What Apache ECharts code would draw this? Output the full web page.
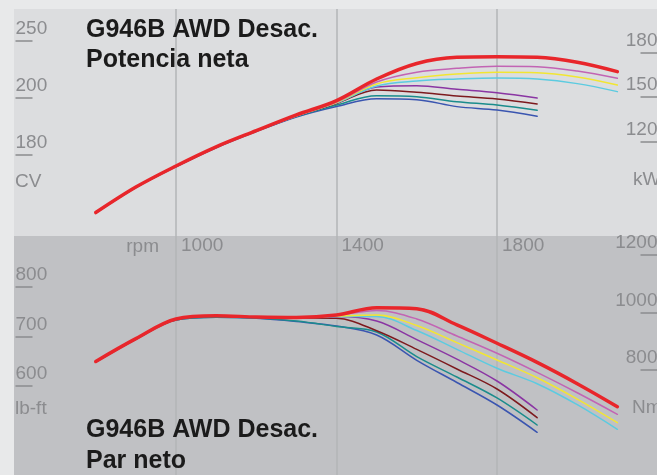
<!DOCTYPE html>
<html><head><meta charset="utf-8">
<script src="https://cdn.jsdelivr.net/npm/echarts@6.0.0/dist/echarts.min.js"></script>
<style>html,body{margin:0;padding:0;background:#e8e9ea;overflow:hidden;} #c{width:657px;height:475px;}</style>
</head><body><div id="c"></div>
<script>
// ---- data ----
const rpm = [800, 900, 1000, 1100, 1200, 1300, 1400, 1500, 1600, 1700, 1800, 1900, 2000, 2100];
const rpmTicks = [1000, 1400, 1800];
const cvTickLabels = ['180', '200', '250'];
const kwTicks = [120, 150, 180];
const lbftTicks = [600, 700, 800];
const nmTicks = [800, 1000, 1200];

// net power (kW)
const powerRed    = [72.1, 89.3, 103.5, 116.4, 127.3, 137.9, 147.6, 162.1, 172.6, 176.8, 177.2, 176.8, 173.4, 167.1];
const powerPink   = [72.1, 89.3, 103.5, 116.4, 127.3, 137.4, 146.6, 160.1, 166.7, 169.3, 170.7, 170.4, 167.5, 162.6];
const powerYellow = [72.1, 89.3, 103.5, 116.4, 127.3, 137.3, 146.3, 158.8, 163.0, 165.5, 166.7, 166.4, 163.5, 158.1];
const powerCyan   = [72.1, 89.3, 103.5, 116.4, 127.3, 137.2, 146.0, 157.4, 160.8, 162.1, 162.8, 162.1, 159.0, 153.6];
const powerPurple = [72.1, 89.3, 103.5, 116.4, 127.3, 137.2, 146.0, 156.7, 157.6, 155.2, 152.9, 149.3];
const powerMaroon = [72.1, 89.3, 103.5, 116.4, 127.3, 137.2, 145.6, 154.7, 153.2, 150.7, 148.7, 145.3];
const powerTeal   = [72.0, 89.1, 103.2, 116.1, 127.0, 136.8, 144.6, 150.9, 150.2, 146.8, 144.6, 141.0];
const powerBlue   = [71.8, 88.9, 103.0, 115.8, 126.7, 136.5, 143.6, 148.8, 148.2, 143.5, 141.2, 137.0];

// net torque (lb-ft)
const torqueRed    = [649.9, 696.0, 735.8, 742.4, 739.8, 738.8, 743.8, 758.5, 756.5, 723.8, 686.7, 648.1, 605.1, 558.6];
const torquePink   = [649.9, 696.0, 735.8, 742.4, 739.8, 738.8, 742.8, 752.9, 735.8, 701.4, 666.5, 627.9, 586.7, 543.2];
const torqueYellow = [649.9, 696.0, 735.8, 742.4, 739.8, 738.8, 741.8, 743.8, 722.6, 687.9, 652.9, 617.0, 573.9, 526.3];
const torqueCyan   = [649.9, 696.0, 735.8, 742.4, 739.8, 738.8, 740.8, 740.8, 712.5, 674.5, 636.2, 604.9, 562.6, 512.9];
const torquePurple = [649.9, 696.0, 735.8, 742.4, 739.8, 738.8, 740.8, 731.7, 694.1, 654.7, 610.5, 551.9];
const torqueMaroon = [649.9, 696.0, 735.8, 742.4, 739.8, 738.0, 737.2, 712.1, 674.3, 634.8, 594.3, 536.4];
const torqueTeal   = [649.0, 695.0, 733.7, 739.2, 737.5, 731.5, 720.6, 709.5, 659.8, 618.6, 576.2, 521.6];
const torqueBlue   = [648.5, 694.5, 733.7, 739.2, 737.0, 730.5, 721.6, 703.4, 652.3, 607.5, 562.0, 506.9];

const colors = {
  red: '#e8262b', pink: '#c264b4', yellow: '#f2e632', cyan: '#5ccbe0',
  purple: '#8a35a3', maroon: '#7d1a1e', teal: '#1a8c8c', blue: '#3a55b0'
};

// ---- chart ----
const chart = echarts.init(document.getElementById('c'), null, {renderer: 'canvas'});
const gray = '#8b8c8f';
const FONT = 'Liberation Sans';
const plain = (v) => String(v);
const lbl = {color: gray, fontSize: 19, fontFamily: FONT, lineHeight: 20, verticalAlign: 'bottom', padding: [0, 0, 2, 0], inside: true, margin: 0, formatter: plain};
const tick = (vals) => ({show: true, inside: true, length: 17, customValues: vals, lineStyle: {color: gray, width: 1.5}});

function mk(name, color, width, xi, yi, vals, z) {
  return {
    name, type: 'line', xAxisIndex: xi, yAxisIndex: yi,
    data: vals.map((v, i) => [rpm[i], v]),
    smooth: 0.35, showSymbol: false, z,
    lineStyle: {color, width, cap: 'round'}, itemStyle: {color},
    emphasis: {disabled: true}
  };
}

const xBase = {
  type: 'value', min: 600, max: 2200, interval: 400,
  axisLine: {show: false}, axisTick: {show: false},
  splitLine: {show: true, showMinLine: false, showMaxLine: false, lineStyle: {color: '#b3b4b7', width: 1.5}}
};

const option = {
  animation: false,
  backgroundColor: '#e8e9ea',
  title: [
    {text: 'G946B AWD Desac.\nPotencia neta', left: 86, top: 15, padding: 0,
     textStyle: {fontSize: 25, fontWeight: 'bold', fontFamily: FONT, color: '#1b1b1b', lineHeight: 30}},
    {text: 'G946B AWD Desac.\nPar neto', left: 86, top: 414.5, padding: 0,
     textStyle: {fontSize: 25, fontWeight: 'bold', fontFamily: FONT, color: '#1b1b1b', lineHeight: 31}}
  ],
  grid: [
    {left: 15.5, width: 642, top: 9, height: 227, containLabel: false, outerBoundsMode: 'none'},
    {left: 15.5, width: 642, top: 236, height: 239, containLabel: false, outerBoundsMode: 'none'}
  ],
  xAxis: [
    Object.assign({}, xBase, {gridIndex: 0, axisLabel: {show: false}}),
    Object.assign({}, xBase, {gridIndex: 1, position: 'top',
      axisLabel: {show: true, inside: true, margin: 0, customValues: rpmTicks, align: 'left', verticalAlign: 'top',
        padding: [0, 0, 0, 5], color: gray, fontSize: 19, fontFamily: FONT, lineHeight: 20, formatter: plain}})
  ],
  yAxis: [
    {gridIndex: 0, type: 'value', position: 'right', min: 56.3, max: 209.3,
     axisLine: {show: false}, splitLine: {show: false}, axisTick: tick(kwTicks),
     axisLabel: Object.assign({}, lbl, {customValues: kwTicks, align: 'right'})},
    {gridIndex: 0, type: 'value', position: 'left', min: -0.426, max: 3.556,
     axisLine: {show: false}, splitLine: {show: false}, axisTick: tick([1, 2, 3]),
     axisLabel: Object.assign({}, lbl, {customValues: [1, 2, 3], align: 'left',
       formatter: (v) => cvTickLabels[Math.round(v) - 1]})},
    {gridIndex: 1, type: 'value', position: 'left', min: 420.6, max: 903.4,
     axisLine: {show: false}, splitLine: {show: false}, axisTick: tick(lbftTicks),
     axisLabel: Object.assign({}, lbl, {customValues: lbftTicks, align: 'left'})},
    {gridIndex: 1, type: 'value', position: 'right', min: 435.5, max: 1266.8,
     axisLine: {show: false}, splitLine: {show: false}, axisTick: tick(nmTicks),
     axisLabel: Object.assign({}, lbl, {customValues: nmTicks, align: 'right'})}
  ],
  graphic: [
    {type: 'rect', z: -1, silent: true, shape: {x: 14, y: 9, width: 643, height: 227}, style: {fill: '#dcdddf'}},
    {type: 'rect', z: -1, silent: true, shape: {x: 14, y: 236, width: 643, height: 239}, style: {fill: '#c0c1c4'}},
    {type: 'text', z: 10, silent: true, style: {text: 'CV', x: 15, y: 182, fill: gray, font: '19px "Liberation Sans"', textAlign: 'left', textVerticalAlign: 'middle'}},
    {type: 'text', z: 10, silent: true, style: {text: 'kW', x: 633, y: 180, fill: gray, font: '19px "Liberation Sans"', textAlign: 'left', textVerticalAlign: 'middle'}},
    {type: 'text', z: 10, silent: true, style: {text: 'lb-ft', x: 15, y: 409, fill: gray, font: '19px "Liberation Sans"', textAlign: 'left', textVerticalAlign: 'middle'}},
    {type: 'text', z: 10, silent: true, style: {text: 'Nm', x: 632, y: 408, fill: gray, font: '19px "Liberation Sans"', textAlign: 'left', textVerticalAlign: 'middle'}},
    {type: 'text', z: 10, silent: true, style: {text: 'rpm', x: 159, y: 247, fill: gray, font: '19px "Liberation Sans"', textAlign: 'right', textVerticalAlign: 'middle'}}
  ],
  series: [
    mk('blue', colors.blue, 1.5, 0, 0, powerBlue, 3),
    mk('teal', colors.teal, 1.5, 0, 0, powerTeal, 3),
    mk('maroon', colors.maroon, 1.5, 0, 0, powerMaroon, 3),
    mk('purple', colors.purple, 1.5, 0, 0, powerPurple, 3),
    mk('cyan', colors.cyan, 1.5, 0, 0, powerCyan, 3),
    mk('yellow', colors.yellow, 1.5, 0, 0, powerYellow, 3),
    mk('pink', colors.pink, 1.5, 0, 0, powerPink, 3),
    mk('red', colors.red, 3.5, 0, 0, powerRed, 4),
    mk('blue', colors.blue, 1.5, 1, 2, torqueBlue, 3),
    mk('teal', colors.teal, 1.5, 1, 2, torqueTeal, 3),
    mk('maroon', colors.maroon, 1.5, 1, 2, torqueMaroon, 3),
    mk('purple', colors.purple, 1.5, 1, 2, torquePurple, 3),
    mk('cyan', colors.cyan, 1.5, 1, 2, torqueCyan, 3),
    mk('yellow', colors.yellow, 1.5, 1, 2, torqueYellow, 3),
    mk('pink', colors.pink, 1.5, 1, 2, torquePink, 3),
    mk('red', colors.red, 3.5, 1, 2, torqueRed, 4)
  ]
};
chart.setOption(option);
</script>
</body></html>
